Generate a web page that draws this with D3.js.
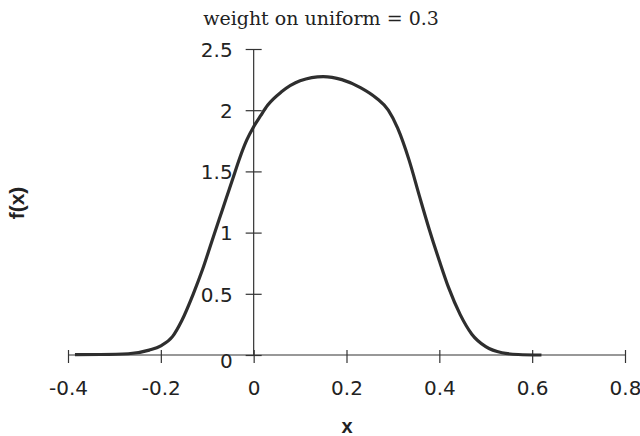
<!DOCTYPE html>
<html>
<head>
<meta charset="utf-8">
<script src="https://cdn.jsdelivr.net/npm/d3@7"></script>
<style>
  html, body { margin: 0; padding: 0; background: #fff; }
  svg { display: block; }
</style>
</head>
<body>
<svg id="chart" width="640" height="436"></svg>
<script>
// Density curve f(x), read as (x, f) pairs
const xValues = [-0.385, -0.33, -0.27, -0.225, -0.2, -0.175, -0.155, -0.13, -0.11, -0.09,
                 -0.075, -0.06, -0.045, -0.03, -0.015, 0, 0.015, 0.03, 0.06, 0.1,
                 0.15, 0.19, 0.23, 0.264, 0.29, 0.31, 0.335, 0.357, 0.378, 0.4,
                 0.42, 0.445, 0.47, 0.5, 0.535, 0.57, 0.62];
const fValues = [0.003, 0.004, 0.01, 0.04, 0.075, 0.15, 0.28, 0.5, 0.7, 0.93,
                 1.1, 1.27, 1.44, 1.61, 1.755, 1.865, 1.955, 2.04, 2.15, 2.24,
                 2.275, 2.25, 2.185, 2.1, 2.0, 1.855, 1.59, 1.3, 1.03, 0.77,
                 0.55, 0.33, 0.17, 0.068, 0.018, 0.004, 0.0];

const xTicks = [-0.4, -0.2, 0, 0.2, 0.4, 0.6, 0.8];
const yTicks = [0, 0.5, 1, 1.5, 2, 2.5];
const titleText = "weight on uniform = 0.3";

const svg = d3.select("#chart");
const ink = "#333";
const plainNumber = d => String(d);

const x = d3.scaleLinear().domain([-0.4, 0.8]).range([68, 625]);
const y = d3.scaleLinear().domain([0, 2.5]).range([355, 49]);

// x axis along f = 0, ticks crossing the line
const xAxis = svg.append("g")
  .attr("transform", `translate(0,${y(0)})`)
  .call(d3.axisBottom(x).tickValues(xTicks).tickSize(0).tickFormat(plainNumber));
xAxis.select(".domain").attr("stroke", ink).attr("stroke-width", 1.2).attr("d", `M${x(-0.4)},0H${x(0.8)}`);
xAxis.selectAll(".tick line").attr("stroke", ink).attr("stroke-width", 1.2).attr("y1", -5).attr("y2", 8);
xAxis.selectAll(".tick text")
  .attr("fill", "#222").attr("y", 26).attr("dy", "0.71em")
  .style("font-family", "'DejaVu Sans', sans-serif").style("font-size", "20px");

// y axis at x = 0
const yAxis = svg.append("g")
  .attr("transform", `translate(${x(0)},0)`)
  .call(d3.axisLeft(y).tickValues(yTicks).tickSize(0).tickFormat(plainNumber));
yAxis.select(".domain").attr("stroke", ink).attr("stroke-width", 1.2).attr("d", `M0,${y(0)}V${y(2.5)}`);
yAxis.selectAll(".tick line").attr("stroke", ink).attr("stroke-width", 1.2).attr("x1", -8).attr("x2", 8);
yAxis.selectAll(".tick text")
  .attr("fill", "#222").attr("x", -21).attr("dy", d => d === 0 ? "0.62em" : "0.36em")
  .style("font-family", "'DejaVu Sans', sans-serif").style("font-size", "20px");

// density curve
const line = d3.line()
  .x((d, i) => x(xValues[i]))
  .y((d, i) => y(fValues[i]))
  .curve(d3.curveMonotoneX);

svg.append("path")
  .datum(xValues)
  .attr("d", line)
  .attr("fill", "none")
  .attr("stroke", "#2e2e2e")
  .attr("stroke-width", 3.2)
  .attr("stroke-linejoin", "round");

// title
svg.append("text")
  .attr("x", 321).attr("y", 25)
  .attr("text-anchor", "middle")
  .attr("fill", "#222")
  .style("font-family", "'DejaVu Serif', serif").style("font-size", "19px")
  .text(titleText);

// axis titles
svg.append("text")
  .attr("x", 347).attr("y", 433)
  .attr("text-anchor", "middle")
  .attr("fill", "#222")
  .style("font-family", "'Liberation Sans', Arial, sans-serif").style("font-size", "20px").style("font-weight", "bold")
  .text("x");

svg.append("text")
  .attr("transform", "translate(24,203) rotate(-90)")
  .attr("text-anchor", "middle")
  .attr("fill", "#222")
  .style("font-family", "'Liberation Sans', Arial, sans-serif").style("font-size", "21px").style("font-weight", "bold")
  .text("f(x)");
</script>
</body>
</html>
